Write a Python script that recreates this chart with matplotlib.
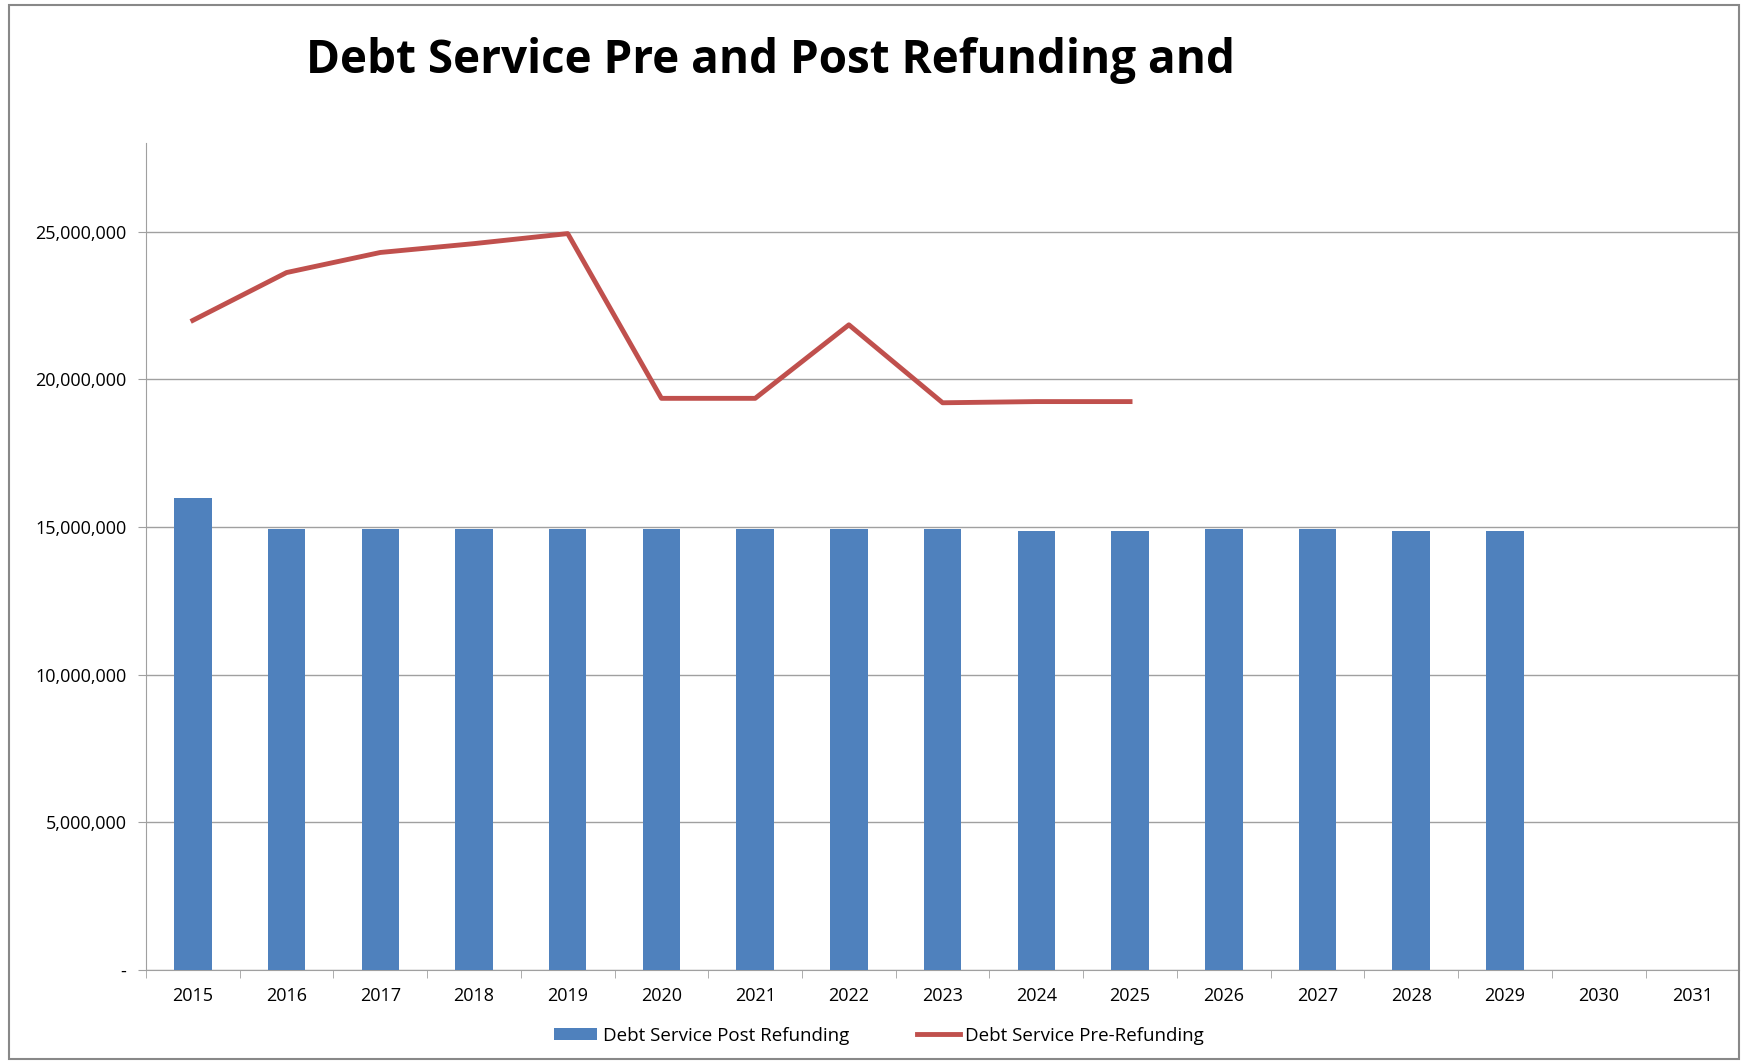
import matplotlib.pyplot as plt
import numpy as np
from matplotlib.ticker import FuncFormatter
from matplotlib.patches import Rectangle

years = [str(y) for y in range(2015, 2032)]
post_refunding = [16000000, 14920000, 14920000, 14920000, 14920000, 14920000,
                  14920000, 14920000, 14920000, 14880000, 14880000, 14920000,
                  14920000, 14880000, 14880000, 0, 0]
pre_years = years[:11]
pre_refunding = [22000000, 23620000, 24300000, 24600000, 24940000, 19360000,
                 19360000, 21850000, 19210000, 19250000, 19250000]

plt.rcParams['font.family'] = ['Open Sans', 'DejaVu Sans']

fig = plt.figure(figsize=(17.48, 10.61), dpi=100)
ax = fig.add_axes([0.0835, 0.0858, 0.9115, 0.7792])

x = np.arange(len(years))
bars = ax.bar(x, post_refunding, width=0.4, color='#4f81bd', lw=0,
              label='Debt Service Post Refunding', zorder=3)
line, = ax.plot(np.arange(len(pre_years)), pre_refunding, color='#c0504d', lw=3.5,
                label='Debt Service Pre-Refunding', zorder=4)

ax.set_xlim(-0.5, len(years) - 0.5)
ax.set_ylim(0, 28000000)
ax.set_yticks(np.arange(0, 25000001, 5000000))
ax.yaxis.set_major_formatter(FuncFormatter(lambda v, p: '-' if v == 0 else f'{v:,.0f}'))
ax.grid(axis='y', color='#a0a0a0', lw=1, zorder=0)
ax.set_xticks(x)
ax.set_xticklabels(years)
ax.set_xticks(np.arange(-0.5, len(years)), minor=True)
ax.tick_params(axis='x', which='major', length=0, pad=12, labelsize=13)
ax.tick_params(axis='x', which='minor', length=6, color='#a0a0a0')
ax.tick_params(axis='y', length=6, color='#a0a0a0', labelsize=13, pad=8)
for s in ['top', 'right']:
    ax.spines[s].set_visible(False)
ax.spines['left'].set_color('#a0a0a0')
ax.spines['bottom'].set_color('#a0a0a0')

fig.text(0.441, 0.943, 'Debt Service Pre and Post Refunding and', ha='center', va='center',
         fontsize=33, fontweight='bold')

ax.legend([bars, line], ['Debt Service Post Refunding', 'Debt Service Pre-Refunding'],
          loc='center', bbox_to_anchor=(0.503, 0.024), bbox_transform=fig.transFigure,
          ncol=2, frameon=False, fontsize=13.5, handlelength=2.3, handleheight=0.6,
          handletextpad=0.3, columnspacing=3.6)

fig.patches.append(Rectangle((0.005, 0.002), 0.99, 0.993, transform=fig.transFigure,
                             fill=False, edgecolor='#888888', lw=1.5))

fig.savefig('out.png', dpi=100)
